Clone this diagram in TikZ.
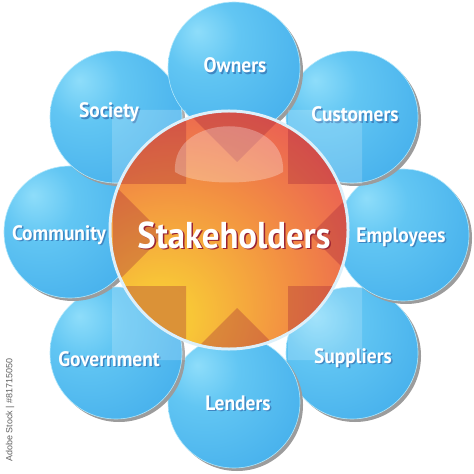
\documentclass[tikz,border=0pt]{standalone}
\usepackage{fontspec}
\newfontfamily\lblfont[FakeStretch=0.93]{PT Sans}
\newfontfamily\wmfont{Liberation Sans}
\definecolor{bl1}{HTML}{8EDDFA}
\definecolor{bl2}{HTML}{62C6F3}
\definecolor{bl3}{HTML}{46B0EC}
\definecolor{bl4}{HTML}{58BBEF}
\definecolor{sgY}{HTML}{F8C637}
\definecolor{sgO}{HTML}{F28C43}
\definecolor{sgR}{HTML}{E8505A}
\definecolor{sgD}{HTML}{DC4656}
\definecolor{crossdk}{HTML}{9A1C38}
\definecolor{blsh}{HTML}{3F86C2}
\definecolor{rdsh}{HTML}{9A2333}
\definecolor{ballshadow}{HTML}{9C9C9C}
\definecolor{rim}{HTML}{DDF0FA}
\pgfdeclareradialshading{bluball}{\pgfpoint{-14bp}{14bp}}{color(0bp)=(bl1); color(14bp)=(bl2); color(40bp)=(bl3); color(50bp)=(bl4); color(100bp)=(bl4)}
\pgfdeclareradialshading{stakeglow}{\pgfpoint{-16bp}{-20bp}}{color(0bp)=(sgY); color(7bp)=(sgY); color(26bp)=(sgO); color(46bp)=(sgR); color(100bp)=(sgD)}
\newcommand\shdtext[2]{\makebox[0pt][l]{\hspace{1.5pt}\raisebox{-1.5pt}{\textcolor{#1}{#2}}}#2}
\begin{document}
\begin{tikzpicture}[x=1bp,y=-1bp,
  ball/.style={circle, minimum size=132bp, inner sep=0pt, shading=bluball, draw=bl1!70, line width=0.6bp},
  stakeball/.style={circle, minimum size=238bp, inner sep=0pt, shading=stakeglow, draw=rim, line width=3bp},
  olbl/.style={anchor=base, inner sep=0pt, text=white, font=\lblfont\bfseries\fontsize{21}{24}\selectfont},
  clbl/.style={anchor=base, inner sep=0pt, text=white, font=\lblfont\bfseries\fontsize{37.5}{42}\selectfont},
  wm/.style={inner sep=0pt, text=black!62, font=\wmfont\fontsize{9}{10}\selectfont, rotate=90}
]
\useasboundingbox (0,0) rectangle (474,474);
\fill[white] (0,0) rectangle (474,474);
% outer balls
\foreach \n/\x/\y in {suppliers/352/353, employees/403/235, customers/352/117, lenders/234/402, government/116/353, community/70/232, society/116/117, owners/234/68} {
  \fill[ballshadow] (\x+3,\y+3) circle (66);
  \node[ball] (b-\n) at (\x,\y) {};
}
% labels
\foreach \n/\x/\y/\t in {owners/235/73/Owners, customers/355/122/Customers, employees/401/242/Employees, suppliers/353/363/Suppliers, lenders/238/410/Lenders, government/109/366/Government, community/59/240/Community, society/109/118/Society} {
  \node[olbl] (t-\n) at (\x,\y) {\shdtext{blsh}{\t}};
}
% converging shape over outer balls
\fill[white, opacity=0.18]
  (112,110) rectangle (186,184)
  (288,110) rectangle (362,184)
  (112,286) rectangle (186,360)
  (288,286) rectangle (362,360);
% centre ball
\node[stakeball] (stake) at (229,230) {};
\begin{scope}
  \clip (229,230) circle (117.5);
  \fill[crossdk, opacity=0.3]
    (100,98) rectangle (186,184)
    (288,98) rectangle (374,184)
    (100,286) rectangle (186,372)
    (288,286) rectangle (374,372)
    (186,111) -- (288,111) -- (237,162) -- cycle
    (186,359) -- (288,359) -- (237,308) -- cycle
    (113,184) -- (113,286) -- (164,235) -- cycle
    (361,184) -- (361,286) -- (310,235) -- cycle;
  \fill[white, opacity=0.28] (175,172) .. controls (171,111) and (287,111) .. (283,172)
    .. controls (262,186) and (196,186) .. (175,172) -- cycle;
\end{scope}
\node[clbl] (t-stake) at (234,248) {\shdtext{rdsh}{Stakeholders}};
% watermark
\node[wm] (wmark) at (10,410) {Adobe Stock | \#81715050};
\end{tikzpicture}
\end{document}
